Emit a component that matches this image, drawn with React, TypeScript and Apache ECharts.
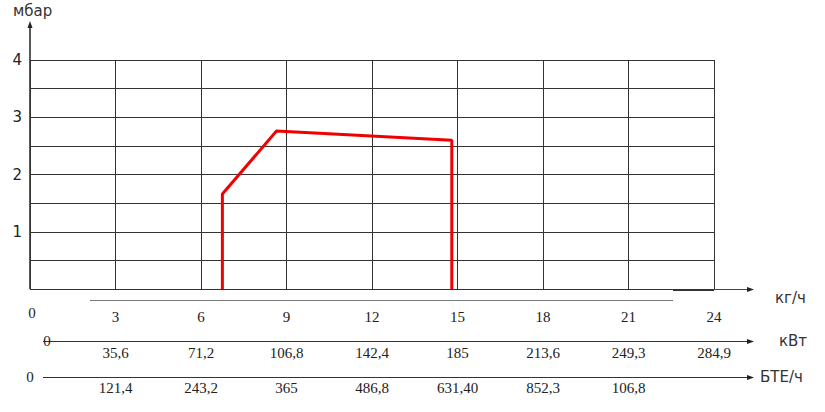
import React, { useEffect, useRef } from "react";
import * as echarts from "echarts";

// ---- data ----
const KG_MAX = 24;
const KG_STEP = 3;
const KW_LABELS = ["35,6", "71,2", "106,8", "142,4", "185", "213,6", "249,3", "284,9"];
const BTU_LABELS = ["121,4", "243,2", "365", "486,8", "631,40", "852,3", "106,8", ""];
const Y_MAX = 4;
const Y_STEP = 0.5;
// working field curve: [kg/h, mbar]
const CURVE_X = [6.75, 6.75, 8.65, 14.8, 14.8];
const CURVE_Y = [0, 1.66, 2.76, 2.6, 0];

const UNIT_KG = "кг/ч";
const UNIT_KW = "кВт";
const UNIT_BTU = "БТЕ/ч";
const UNIT_Y = "мбар";

// ---- layout ----
const W = 825;
const H = 412;
const G_LEFT = 30;
const G_TOP = 60;
const G_RIGHT = 714;
const G_BOTTOM = 289;
const ARROW_X = 754;
const AX2_Y = 341;
const AX3_Y = 377;

const SERIF = "'Liberation Serif', 'Times New Roman', serif";
const SANS = "'DejaVu Sans', Verdana, sans-serif";

function arrowRight(x: number, y: number) {
  return {
    type: "polygon",
    shape: { points: [[x, y], [x - 7, y - 2.5], [x - 7, y + 2.5]] },
    style: { fill: "#222" },
    silent: true,
  };
}
function hline(x1: number, x2: number, y: number, stroke = "#222", lw = 1) {
  return {
    type: "line",
    shape: { x1, y1: y, x2, y2: y },
    style: { stroke, lineWidth: lw },
    silent: true,
  };
}
function txt(x: number, y: number, text: string, font: string, size: number, align = "left", color = "#222") {
  return {
    type: "text",
    x,
    y,
    style: { text, fontFamily: font, fontSize: size, fill: color, align, verticalAlign: "middle" },
    silent: true,
  };
}

export default function App() {
  const ref = useRef<HTMLDivElement>(null);
  useEffect(() => {
    if (!ref.current) return;
    const chart = echarts.init(ref.current, undefined, { renderer: "svg" });
    const data = CURVE_X.map((x, i) => [x, CURVE_Y[i]]);
    const baseX = {
      type: "value",
      gridIndex: 0,
      min: 0,
      max: KG_MAX,
      interval: KG_STEP,
      position: "bottom",
      axisLine: { show: false },
      axisTick: { show: false },
    };
    chart.setOption({
      animation: false,
      backgroundColor: "#fff",
      grid: {
        left: G_LEFT,
        top: G_TOP,
        width: G_RIGHT - G_LEFT,
        height: G_BOTTOM - G_TOP,
        containLabel: false,
      },
      xAxis: [
        {
          ...baseX,
          splitLine: { show: true, lineStyle: { color: "#333", width: 1 } },
          axisLabel: {
            margin: 20,
            fontFamily: SERIF,
            fontSize: 15,
            color: "#222",
            formatter: (v: number) => (v === 0 ? "" : String(v)),
          },
        },
        {
          ...baseX,
          offset: AX2_Y - G_BOTTOM,
          splitLine: { show: false },
          axisLabel: {
            margin: 4,
            fontFamily: SERIF,
            fontSize: 15,
            color: "#222",
            formatter: (v: number) => (v === 0 ? "" : KW_LABELS[Math.round(v / KG_STEP) - 1] ?? ""),
          },
        },
        {
          ...baseX,
          offset: AX3_Y - G_BOTTOM,
          splitLine: { show: false },
          axisLabel: {
            margin: 3,
            fontFamily: SERIF,
            fontSize: 15,
            color: "#222",
            formatter: (v: number) => (v === 0 ? "" : BTU_LABELS[Math.round(v / KG_STEP) - 1] ?? ""),
          },
        },
      ],
      yAxis: {
        type: "value",
        min: 0,
        max: Y_MAX,
        interval: Y_STEP,
        axisLine: { show: false },
        axisTick: { show: false },
        splitLine: { show: true, lineStyle: { color: "#333", width: 1 } },
        axisLabel: {
          margin: 8,
          fontFamily: SANS,
          fontSize: 15,
          color: "#222",
          formatter: (v: number) => (Number.isInteger(v) && v > 0 ? String(v) : ""),
        },
      },
      series: [
        {
          type: "line",
          xAxisIndex: 0,
          data,
          showSymbol: false,
          symbol: "none",
          lineStyle: { color: "#f00000", width: 3 },
          z: 5,
        },
      ],
      graphic: [
        // y axis with arrow
        { type: "line", shape: { x1: G_LEFT, y1: G_BOTTOM, x2: G_LEFT, y2: 24 }, style: { stroke: "#222", lineWidth: 1.5 }, silent: true },
        { type: "polygon", shape: { points: [[G_LEFT, 21], [G_LEFT - 2.5, 28], [G_LEFT + 2.5, 28]] }, style: { fill: "#222" }, silent: true },
        txt(13, 11, UNIT_Y, SANS, 15, "left", "#333"),
        // kg/h axis
        hline(G_LEFT, ARROW_X - 5, G_BOTTOM + 0.5, "#444", 1),
        hline(673, G_RIGHT, G_BOTTOM + 1, "#333", 2),
        arrowRight(ARROW_X, G_BOTTOM + 0.5),
        hline(90, 673, 300.5, "#777", 1),
        txt(32, 313, "0", SERIF, 15, "center"),
        txt(775, 298, UNIT_KG, SANS, 15, "left", "#333"),
        // kW axis
        hline(43, ARROW_X - 5, AX2_Y + 0.5, "#333", 1),
        arrowRight(ARROW_X, AX2_Y + 0.5),
        txt(47, AX2_Y, "0", SERIF, 15, "center"),
        txt(779, AX2_Y, UNIT_KW, SANS, 15, "left", "#333"),
        // BTU axis
        hline(43, ARROW_X - 5, AX3_Y + 0.5, "#333", 1),
        arrowRight(ARROW_X, AX3_Y + 0.5),
        txt(30, AX3_Y, "0", SERIF, 15, "center"),
        txt(760, AX3_Y, UNIT_BTU, SANS, 15, "left", "#333"),
      ],
    });
    return () => chart.dispose();
  }, []);
  return (
    <div
      ref={ref}
      style={{ position: "absolute", left: 0, top: 0, width: W, height: H }}
    />
  );
}
